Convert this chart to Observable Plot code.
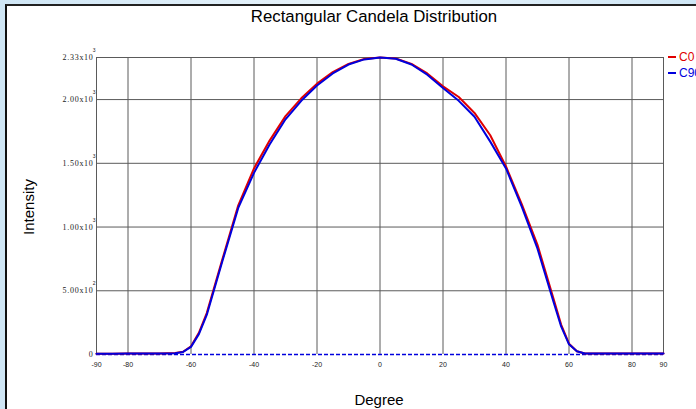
<!DOCTYPE html>
<html><head><meta charset="utf-8">
<script src="https://cdn.jsdelivr.net/npm/d3@7"></script>
<script src="https://cdn.jsdelivr.net/npm/@observablehq/plot@0.6"></script>
<style>
body{margin:0;background:#dcecf7;}
#wrap{position:relative;width:696px;height:409px;overflow:hidden;background:linear-gradient(90deg,#cfe6f5,#e9f4fb 50%,#cfe6f5);}
#panel{position:absolute;left:5px;top:4px;width:720px;height:430px;background:#fff;border-left:2px solid #111;border-top:2px solid #222;}
#chart{position:absolute;left:0;top:0;}
.lbl{position:absolute;font-family:"Liberation Sans",Arial,sans-serif;color:#000;white-space:nowrap;}
#title{left:0;width:748px;top:7px;text-align:center;font-size:16.8px;}
#ylab{left:28px;top:207px;font-size:15px;transform:translate(-50%,-50%) rotate(-90deg);}
#xlab{left:379px;top:399px;font-size:15px;transform:translate(-50%,-50%);}
.leg{font-size:12px;left:668px;}
.dash{display:inline-block;width:8px;height:2px;background:currentColor;vertical-align:middle;margin-right:3px;position:relative;top:-1px;}
</style>
</head><body>
<div id="wrap">
  <div id="panel"></div>
  <div id="chart"></div>
  <div class="lbl" id="title">Rectangular Candela Distribution</div>
  <div class="lbl" id="ylab">Intensity</div>
  <div class="lbl" id="xlab">Degree</div>
  <div class="lbl leg" id="leg0" style="top:50px;color:#e00000"><span class="dash"></span>C0</div>
  <div class="lbl leg" id="leg90" style="top:66px;color:#0000dd"><span class="dash"></span>C90</div>
</div>
<script>
const degrees = [-90,-85,-80,-75,-70,-65,-62.5,-60,-57.5,-55,-50,-45,-40,-35,-30,-25,-20,-15,-10,-5,0,5,10,15,20,25,30,35,40,45,50,55,57.5,60,62.5,65,70,75,80,85,90];
const c0  = [5,5,8,8,8,12,22,65,170,325,750,1170,1460,1680,1870,2010,2125,2215,2280,2318,2330,2322,2280,2205,2104,2020,1895,1720,1475,1180,860,445,235,85,25,8,8,8,8,8,8];
const c90 = [5,5,8,8,8,10,20,60,160,310,735,1150,1425,1650,1845,1990,2110,2205,2275,2315,2330,2320,2275,2195,2090,1990,1865,1670,1460,1160,830,420,220,80,25,8,8,8,8,8,8];
const xTicks = [-90,-80,-60,-40,-20,0,20,40,60,80,90];
const yTicks = [0,500,1000,1500,2000,2330];
const yTickText = ["0","5.00x10","1.00x10","1.50x10","2.00x10","2.33x10"];
const yTickExp = ["","2","3","3","3","3"];
const yMax = 2330;

const d0 = degrees.map((d,i)=>({deg:d, v:c0[i]}));
const d90 = degrees.map((d,i)=>({deg:d, v:c90[i]}));
const yt = yTicks.map((v,i)=>({v, t:yTickText[i], e:yTickExp[i]}));

const plot = Plot.plot({
  width: 696, height: 409,
  marginLeft: 96, marginRight: 33, marginTop: 57, marginBottom: 55,
  style: {background: "transparent", overflow: "visible"},
  x: {domain: [-90, 90], axis: null},
  y: {domain: [0, yMax], axis: null},
  marks: [
    Plot.ruleX(xTicks, {x: d=>d, y1: 0, y2: yMax, stroke: "#5a5a5a", strokeWidth: 1}),
    Plot.ruleY(yTicks.filter(v=>v>0), {y: d=>d, x1: -90, x2: 90, stroke: "#5a5a5a", strokeWidth: 1}),
    Plot.ruleY([0], {y: d=>d, x1: -90, x2: 90, stroke: "#0000dd", strokeWidth: 1.5, strokeDasharray: "4,2"}),
    Plot.line(d0, {x: "deg", y: "v", stroke: "#e00000", strokeWidth: 2}),
    Plot.line(d90, {x: "deg", y: "v", stroke: "#0000dd", strokeWidth: 2}),
    Plot.text(yt, {x: -90, y: "v", text: "t", dx: -3, textAnchor: "end", fontFamily: "Liberation Serif", fontSize: 8, fill: "#222"}),
    Plot.text(yt, {x: -90, y: "v", text: "e", dx: -1, dy: -7, textAnchor: "end", fontFamily: "Liberation Sans", fontSize: 5, fill: "#222"}),
    Plot.text(xTicks, {x: d=>d, y: 0, text: d=>String(d), dy: 10, fontFamily: "Liberation Sans", fontSize: 7, fill: "#222"})
  ]
});
d3.select(plot).selectAll('g[font-family="Liberation Serif"]').attr("letter-spacing", "0.7px");
document.getElementById("chart").appendChild(plot);
</script>
</body></html>
